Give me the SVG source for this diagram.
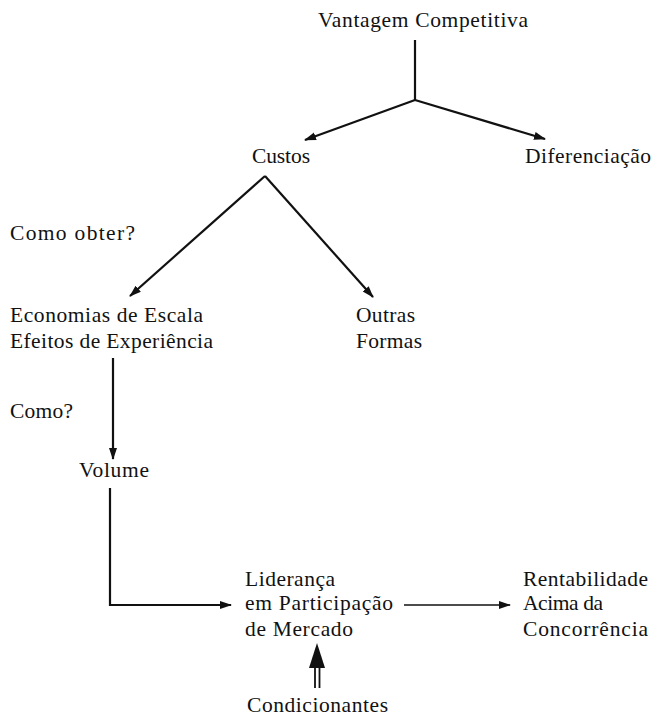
<svg xmlns="http://www.w3.org/2000/svg" width="653" height="719" viewBox="0 0 653 719">
<defs>
<style>
text{font-family:"Liberation Serif","Times New Roman",serif;font-size:21.5px;fill:#111}
.c{stroke:#111;stroke-width:2.2;fill:none}
</style>
<marker id="ah" markerWidth="12" markerHeight="10" refX="11" refY="5" orient="auto" markerUnits="userSpaceOnUse">
<path d="M0,1 L12,5 L0,9 Z" fill="#111"/>
</marker>
</defs>
<rect width="653" height="719" fill="#fff"/>
<g id="connectors">
<path class="c" d="M415,40 V100"/>
<path class="c" d="M415,100 L305,140" marker-end="url(#ah)"/>
<path class="c" d="M415,100 L545,139" marker-end="url(#ah)"/>
<path class="c" d="M265,176 L130,296" marker-end="url(#ah)"/>
<path class="c" d="M265,176 L373,297" marker-end="url(#ah)"/>
<path class="c" d="M113,358 V459" marker-end="url(#ah)"/>
<path class="c" d="M110,488 V605 H231" marker-end="url(#ah)"/>
<path class="c" d="M404,605 H510" marker-end="url(#ah)" style="stroke-width:1.6"/>
<g id="double-arrow">
<path d="M315,688 V662 M319.5,688 V662" stroke="#111" stroke-width="1.8" fill="none"/>
<path d="M317,643 L325,668 L309,668 Z" fill="#111"/>
</g>
</g>
<g id="vantagem"><text x="318" y="27" textLength="210">Vantagem Competitiva</text></g>
<g id="custos"><text x="252" y="163" textLength="58">Custos</text></g>
<g id="diferenciacao"><text x="525" y="163" textLength="126">Diferenciação</text></g>
<g id="como-obter"><text x="10" y="240" textLength="125">Como obter?</text></g>
<g id="economias"><text x="10" y="322" textLength="193">Economias de Escala</text><text x="10" y="348" textLength="203">Efeitos de Experiência</text></g>
<g id="outras"><text x="356" y="322" textLength="59">Outras</text><text x="356" y="348" textLength="66">Formas</text></g>
<g id="como"><text x="10" y="418" textLength="63">Como?</text></g>
<g id="volume"><text x="79" y="477" textLength="70">Volume</text></g>
<g id="lideranca"><text x="245" y="586" textLength="90">Liderança</text><text x="245" y="610" textLength="148">em Participação</text><text x="245" y="636" textLength="108">de Mercado</text></g>
<g id="rentabilidade"><text x="523" y="586" textLength="125">Rentabilidade</text><text x="523" y="610" textLength="80">Acima da</text><text x="523" y="636" textLength="125">Concorrência</text></g>
<g id="condicionantes"><text x="247" y="712" textLength="141">Condicionantes</text></g>
</svg>
